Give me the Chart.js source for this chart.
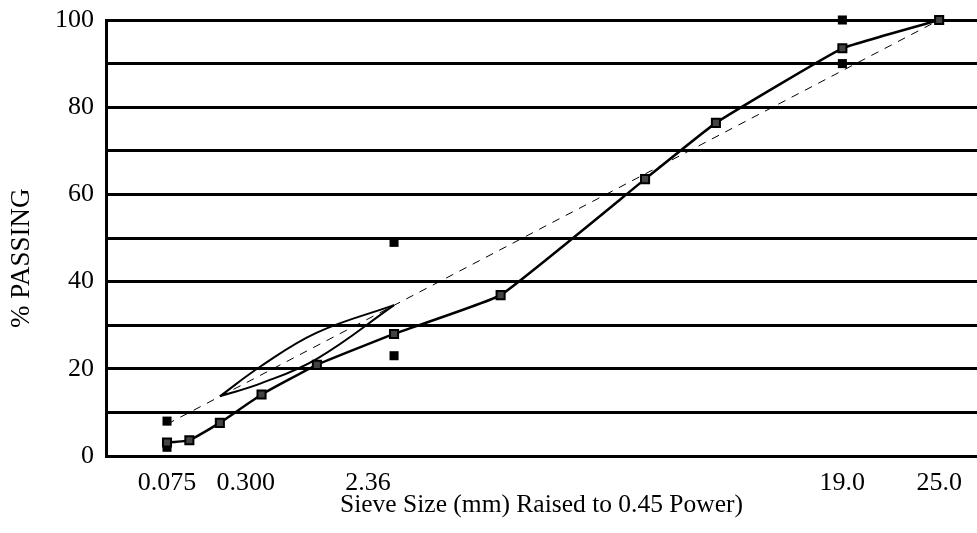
<!DOCTYPE html>
<html>
<head>
<meta charset="utf-8">
<title>Gradation Chart</title>
<script src="https://cdn.jsdelivr.net/npm/chart.js@4.4.1/dist/chart.umd.min.js"></script>
<style>
    html, body { margin: 0; padding: 0; background: #fff; }
    .chart-box { width: 977px; height: 533px; }
</style>
</head>
<body>
<div class="chart-box"><canvas id="gradationChart"></canvas></div>
<script>
// Sieve sizes (mm) and values
const sieveSizes = [0.075, 0.15, 0.3, 0.6, 1.18, 2.36, 4.75, 9.5, 12.5, 19.0, 25.0];
const percentPassing = [3.1, 3.6, 7.6, 14.1, 20.9, 28.0, 36.9, 63.5, 76.4, 93.5, 100];

// Maximum density line
const maxDensitySizes = [0.075, 25.0];
const maxDensityValues = [7.3, 100];

// Restricted zone (upper and lower boundaries)
const zoneSizes = [0.3, 0.6, 1.18, 2.36];
const zoneUpper = [13.7, 20.7, 28.3, 34.6];
const zoneLower = [13.7, 16.7, 22.3, 34.6];

// Control points
const controlSizes = [0.075, 0.075, 2.36, 2.36, 19.0, 19.0, 25.0];
const controlValues = [2, 8, 23, 49, 90, 100, 100];

// Axis ticks (the original labels sit a little off their sieves, spaces mimic that)
const xTickSizes = [0.075, 0.3, 2.36, 19.0, 25.0];
const xTickLabels = ['0.075', '\u00A0\u00A0\u00A0\u00A0\u00A0\u00A0\u00A0\u00A00.300', '2.36\u00A0\u00A0\u00A0\u00A0\u00A0\u00A0\u00A0\u00A0', '19.0', '25.0'];
const yTicks = [0, 20, 40, 60, 80, 100];

const POWER = 0.45;
const serif = '"Liberation Serif", "Times New Roman", serif';

function toPoints(sizes, values) {
    return sizes.map((s, i) => ({ x: Math.pow(s, POWER), y: values[i] }));
}

document.addEventListener('DOMContentLoaded', function() {
    const ctx = document.getElementById('gradationChart').getContext('2d');

    new Chart(ctx, {
        type: 'line',
        data: {
            datasets: [
                {
                    label: 'Gradation',
                    data: toPoints(sieveSizes, percentPassing),
                    borderColor: '#000',
                    borderWidth: 2.5,
                    tension: 0.1,
                    pointStyle: 'rect',
                    pointRadius: 5.7,
                    pointBorderWidth: 2,
                    pointBorderColor: '#000',
                    pointBackgroundColor: '#444',
                    clip: false
                },
                {
                    label: 'Maximum density line',
                    data: toPoints(maxDensitySizes, maxDensityValues),
                    borderColor: '#000',
                    borderWidth: 1,
                    borderDash: [8, 7],
                    pointRadius: 0,
                    clip: false
                },
                {
                    label: 'Restricted zone upper',
                    data: toPoints(zoneSizes, zoneUpper),
                    borderColor: '#000',
                    borderWidth: 2,
                    tension: 0.4,
                    pointRadius: 0
                },
                {
                    label: 'Restricted zone lower',
                    data: toPoints(zoneSizes, zoneLower),
                    borderColor: '#000',
                    borderWidth: 2,
                    tension: 0.4,
                    pointRadius: 0
                },
                {
                    label: 'Control points',
                    data: toPoints(controlSizes, controlValues),
                    showLine: false,
                    pointStyle: 'rect',
                    pointRadius: 6.4,
                    pointBorderWidth: 0,
                    pointBackgroundColor: '#000',
                    clip: false
                }
            ]
        },
        options: {
            responsive: true,
            maintainAspectRatio: false,
            animation: false,
            layout: {
                autoPadding: false,
                padding: { top: 20, right: 0, left: 0, bottom: 0 }
            },
            plugins: {
                legend: { display: false },
                tooltip: { enabled: false }
            },
            scales: {
                x: {
                    type: 'linear',
                    min: 0,
                    max: 4.45,
                    afterBuildTicks: function(scale) {
                        scale.ticks = xTickSizes.map(s => ({ value: Math.pow(s, POWER) }));
                    },
                    afterFit: function(scale) {
                        scale.height = 77;
                        scale.paddingLeft = 0;
                        scale.paddingRight = 0;
                    },
                    grid: { display: false, drawTicks: false },
                    border: { display: true, color: '#000', width: 3 },
                    ticks: {
                        color: '#000',
                        padding: 12,
                        maxRotation: 0,
                        autoSkip: false,
                        font: { family: serif, size: 26 },
                        callback: (value, index) => xTickLabels[index]
                    },
                    title: {
                        display: true,
                        text: 'Sieve Size (mm) Raised to 0.45 Power)',
                        color: '#000',
                        font: { family: serif, size: 25.5 },
                        padding: { top: 0, bottom: 12 }
                    }
                },
                y: {
                    min: 0,
                    max: 100,
                    afterFit: function(scale) {
                        scale.width = 106;
                        scale.paddingTop = 0;
                        scale.paddingBottom = 0;
                    },
                    grid: { color: '#000', lineWidth: 3, drawTicks: false },
                    border: { display: true, color: '#000', width: 3 },
                    ticks: {
                        stepSize: 10,
                        color: '#000',
                        padding: 12,
                        font: { family: serif, size: 26 },
                        callback: value => yTicks.includes(value) ? value : ''
                    },
                    title: {
                        display: true,
                        text: '% PASSING\u00A0\u00A0\u00A0\u00A0\u00A0\u00A0',
                        color: '#000',
                        font: { family: serif, size: 27 },
                        padding: { top: 6, bottom: 0 }
                    }
                }
            }
        }
    });
});
</script>
</body>
</html>
